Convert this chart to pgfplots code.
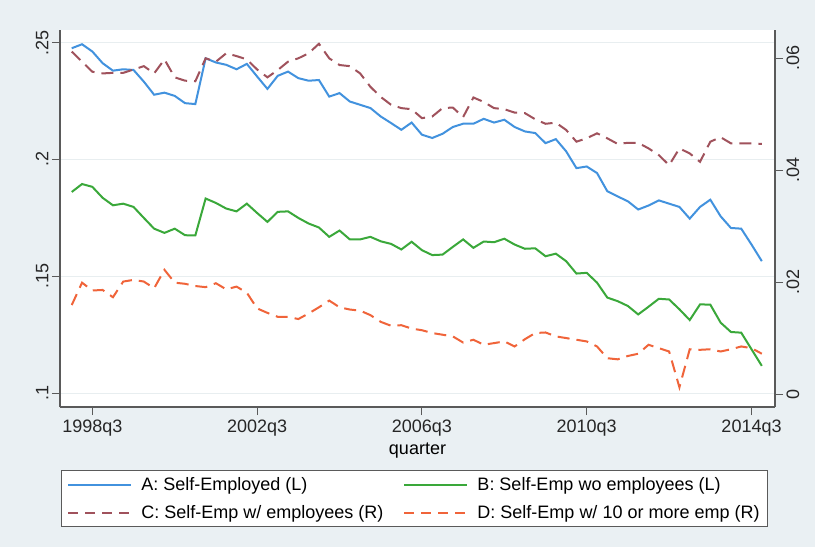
\documentclass[border=0pt]{standalone}
\usepackage{pgfplots}
\pgfplotsset{compat=1.18}
\usepackage{pgfplotstable}
\usepackage{fontspec}
\setmainfont{Liberation Sans}
\newcommand\cf{\fontsize{18}{21}\selectfont}
\definecolor{bgc}{RGB}{234,240,243}
\definecolor{gridc}{RGB}{232,238,240}
\definecolor{axc}{RGB}{90,90,90}
\definecolor{cA}{RGB}{66,146,222}
\definecolor{cB}{RGB}{58,168,58}
\definecolor{cC}{RGB}{160,82,92}
\definecolor{cD}{RGB}{240,100,58}
\pgfplotstableread{
i A B C D
0 .2476 .1861 .0612 .0159
1 .2493 .1895 .0594 .0199
2 .2462 .1883 .0576 .0185
3 .2412 .1836 .0573 .0186
4 .2380 .1804 .0574 .0173
5 .2386 .1811 .0574 .0201
6 .2383 .1797 .0580 .0204
7 .2333 .1750 .0586 .0201
8 .2277 .1704 .0573 .0189
9 .2286 .1686 .0598 .0222
10 .2272 .1704 .0566 .0199
11 .2241 .1676 .0560 .0197
12 .2237 .1675 .0559 .0193
13 .2433 .1833 .0600 .0191
14 .2415 .1814 .0594 .0198
15 .2405 .1790 .0609 .0187
16 .2386 .1778 .0604 .0192
17 .2409 .1811 .0598 .0181
18 .2355 .1771 .0580 .0153
19 .2302 .1733 .0566 .0145
20 .2358 .1776 .0579 .0138
21 .2376 .1778 .0594 .0138
22 .2348 .1750 .0600 .0134
23 .2337 .1726 .0609 .0144
24 .2340 .1709 .0626 .0155
25 .2269 .1669 .0600 .0167
26 .2284 .1696 .0588 .0155
27 .2248 .1658 .0586 .0151
28 .2234 .1658 .0573 .0149
29 .2220 .1669 .0549 .0141
30 .2184 .1650 .0531 .0129
31 .2156 .1639 .0517 .0122
32 .2127 .1615 .0511 .0123
33 .2158 .1648 .0509 .0117
34 .2106 .1612 .0493 .0114
35 .2092 .1591 .0496 .0109
36 .2110 .1593 .0511 .0106
37 .2139 .1626 .0512 .0103
38 .2153 .1658 .0495 .0092
39 .2153 .1622 .0530 .0097
40 .2174 .1649 .0522 .0088
41 .2158 .1646 .0511 .0091
42 .2170 .1661 .0509 .0094
43 .2139 .1636 .0503 .0085
44 .2120 .1618 .0502 .0098
45 .2113 .1620 .0491 .0109
46 .2070 .1586 .0483 .0110
47 .2087 .1597 .0485 .0103
48 .2035 .1565 .0472 .0100
49 .1963 .1512 .0451 .0097
50 .1970 .1515 .0457 .0094
51 .1942 .1473 .0466 .0085
52 .1864 .1409 .0457 .0064
53 .1842 .1394 .0447 .0062
54 .1821 .1373 .0449 .0068
55 .1786 .1337 .0449 .0072
56 .1803 .1370 .0439 .0088
57 .1825 .1404 .0427 .0082
58 .1811 .1401 .0409 .0076
59 .1797 .1359 .0439 .0012
60 .1747 .1313 .0430 .0080
61 .1797 .1380 .0415 .0079
62 .1828 .1379 .0451 .0080
63 .1757 .1302 .0459 .0076
64 .1707 .1262 .0448 .0080
65 .1704 .1259 .0448 .0085
66 .1636 .1188 .0448 .0082
67 .1565 .1117 .0447 .0072
}\data
\begin{document}
\begin{tikzpicture}
\fill[bgc] (-60pt,-140pt) rectangle (755pt,407pt);
\pgfplotsset{
  common/.style={
    scale only axis, width=715pt, height=377pt,
    xmin=-1.14, xmax=68.28,
    tick align=outside, major tick length=8pt,
    tick style={color=axc, line width=0.9pt},
    axis line style={-, color=axc, line width=1.1pt},
    scaled y ticks=false,
    /pgf/number format/assume math mode=true,
    ticklabel style={font=\cf, text=black!85},
  }
}
\begin{axis}[common,
  axis background/.style={fill=white},
  axis x line*=bottom, axis y line*=left,
  ymin=0.0941, ymax=0.2554,
  ytick={0.1,0.15,0.2,0.25}, yticklabels={.1,.15,.2,.25},
  yticklabel style={rotate=90, anchor=south},
  ymajorgrids, grid style={gridc, line width=0.9pt},
  xtick={2,18,34,50,66}, xticklabels={1998q3,2002q3,2006q3,2010q3,2014q3},
  xticklabel style={yshift=-1pt},
  xlabel={quarter}, xlabel style={font=\cf, yshift=0pt},
  legend columns=2,
  legend cell align=left,
  legend image code/.code={\draw[#1] (0pt,0pt) -- (63pt,0pt);},
  legend style={at={(axis description cs:0.4958,-0.168)}, anchor=north,
    draw=axc, line width=1pt, fill=white, font=\cf,
    inner xsep=6pt, inner ysep=5pt, row sep=9pt,
    /tikz/every odd column/.append style={column sep=7pt},
    /tikz/every even column/.append style={column sep=18pt}},
]
\addplot[cA, line width=2pt] table[x=i, y=A] {\data};
\addlegendentry{A: Self-Employed (L)}
\addplot[cB, line width=2pt] table[x=i, y=B] {\data};
\addlegendentry{B: Self-Emp wo employees (L)}
\addlegendimage{cC, line width=2pt, dash pattern=on 10pt off 7pt}
\addlegendentry{C: Self-Emp w/ employees (R)}
\addlegendimage{cD, line width=2pt, dash pattern=on 10pt off 7pt}
\addlegendentry{D: Self-Emp w/ 10 or more emp (R)}
\end{axis}
\begin{axis}[common,
  axis x line=none, axis y line*=right,
  ymin=-0.00232, ymax=0.06506,
  ytick={0,0.02,0.04,0.06}, yticklabels={0,.02,.04,.06},
  yticklabel style={rotate=90, anchor=north},
]
\addplot[cC, line width=2pt, dash pattern=on 12pt off 7pt] table[x=i, y=C] {\data};
\addplot[cD, line width=2pt, dash pattern=on 12pt off 7pt] table[x=i, y=D] {\data};
\end{axis}
\pgfresetboundingbox
\path[use as bounding box] (-60pt,-140pt) rectangle (755pt,407pt);
\end{tikzpicture}
\end{document}
